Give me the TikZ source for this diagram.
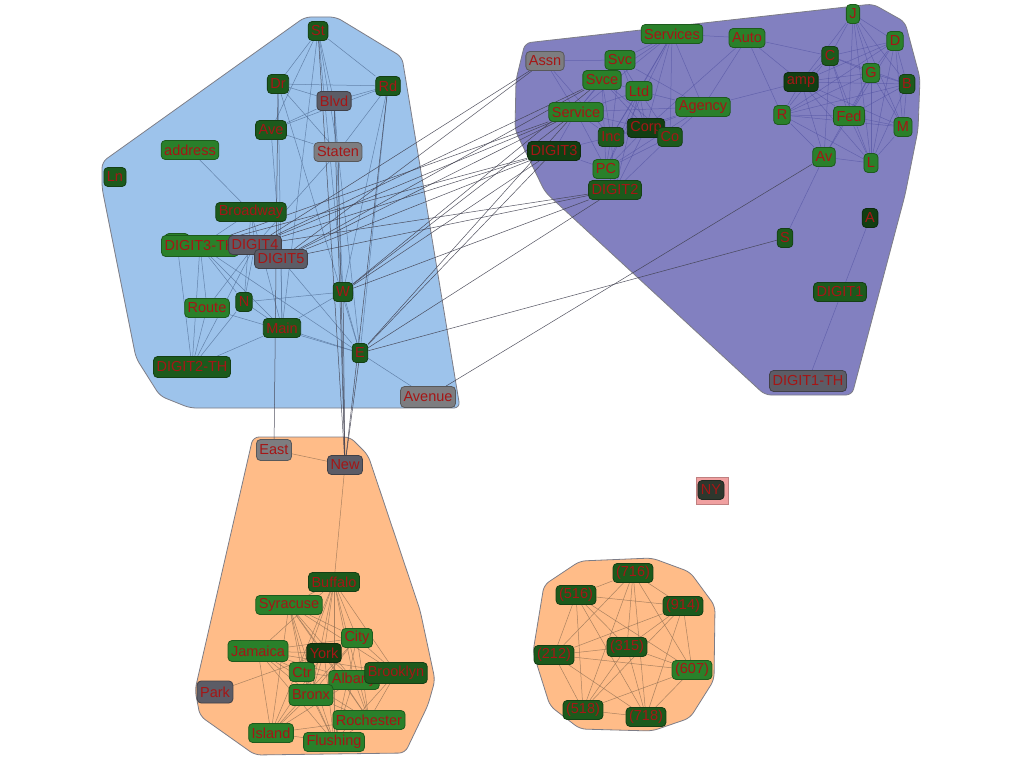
\documentclass[tikz,border=0pt]{standalone}
\usepackage{fontspec}
\setmainfont{Liberation Sans}
\definecolor{hullblue}{RGB}{157,195,235}
\definecolor{hullpurple}{RGB}{130,128,192}
\definecolor{hullpeach}{RGB}{255,188,136}
\definecolor{hullpink}{RGB}{240,160,160}
\definecolor{hullline}{RGB}{125,125,135}
\definecolor{cgreen}{RGB}{42,128,42}
\definecolor{cdark}{RGB}{28,90,28}
\definecolor{cdarker}{RGB}{18,62,18}
\definecolor{cgray}{RGB}{125,125,128}
\definecolor{cdgray}{RGB}{92,92,102}
\definecolor{cblack}{RGB}{45,55,45}
\definecolor{txtred}{RGB}{165,22,22}
\definecolor{eblue}{RGB}{85,115,155}
\definecolor{epurple}{RGB}{78,78,160}
\definecolor{ebrown}{RGB}{150,115,85}
\definecolor{einter}{RGB}{65,65,80}
\pgfdeclarelayer{hulllayer}
\pgfdeclarelayer{edgelayer}
\pgfsetlayers{hulllayer,edgelayer,main}
\tikzset{
  basenode/.style={rounded corners=4pt, inner xsep=3pt, inner ysep=0pt,
    minimum height=19pt, text=txtred, line width=0.8pt,
    font=\fontsize{14.5}{16}\selectfont},
  fgreen/.style={basenode, fill=cgreen, draw=cgreen!70!black},
  fdark/.style={basenode, fill=cdark, draw=cdark!70!black},
  fdarker/.style={basenode, fill=cdarker, draw=cdarker!70!black},
  fgray/.style={basenode, fill=cgray, draw=cgray!70!black},
  fdgray/.style={basenode, fill=cdgray, draw=cdgray!70!black},
  fblack/.style={basenode, fill=cblack, draw=cblack!70!black},
  hull/.style={draw=hullline, line width=0.8pt, rounded corners=6pt},
  eleft/.style={draw=eblue, line width=0.5pt, opacity=0.8},
  eright/.style={draw=epurple, line width=0.5pt, opacity=0.6},
  ebot/.style={draw=ebrown, line width=0.5pt, opacity=0.8},
  einterc/.style={draw=einter, line width=0.5pt, opacity=0.9}
}
\begin{document}
\begin{tikzpicture}[x=1pt,y=-1pt]
\useasboundingbox (0,0) rectangle (1024,768);
\begin{pgfonlayer}{hulllayer}
\fill[white] (0,0) rectangle (1024,768);
\filldraw[hull, fill=hullblue] (305,17) -- (336,17) -- (402,57) -- (460,408) -- (190,408) -- (160,396) -- (136,358) -- (102,188) -- (102,162) -- cycle;
\filldraw[hull, fill=hullpurple] (525,43) -- (873,4) -- (905,22) -- (920,78) -- (918,130) -- (905,195) -- (852,395) -- (765,395) -- (545,192) -- (515,130) -- (516,80) -- cycle;
\filldraw[hull, fill=hullpeach] (253,437) -- (350,437) -- (368,455) -- (420,610) -- (435,680) -- (428,705) -- (405,753) -- (255,755) -- (200,716) -- (195,690) -- cycle;
\filldraw[hull, fill=hullpeach] (580,561) -- (652,558) -- (690,572) -- (715,606) -- (714,680) -- (690,718) -- (652,731) -- (580,729) -- (550,706) -- (533,652) -- (544,585) -- cycle;
\filldraw[draw=hullpink!80!black, line width=0.6pt, fill=hullpink] (696,477) rectangle (728,504);
\end{pgfonlayer}

% nodes: left cluster
\node[fdark] (St) at (318,31) {St};
\node[fdark] (Dr) at (278,84) {Dr};
\node[fdark] (Rd) at (388,86) {Rd};
\node[fdgray] (Blvd) at (334,101) {Blvd};
\node[fdark] (Ave) at (271,130) {Ave};
\node[fgray] (Staten) at (338,152) {Staten};
\node[fgreen] (address) at (190,150) {address};
\node[fdark] (Ln) at (115,177) {Ln};
\node[fdark] (Broadway) at (251,212) {Broadway};
\node[fgreen, minimum width=24pt] (hid) at (177,243) {};
\node[fgreen, minimum height=21pt] (dthree) at (200,246) {DIGIT3-TH};
\node[fdgray] (dfour) at (255,245) {DIGIT4};
\node[fdgray] (dfive) at (281,259) {DIGIT5};
\node[fgreen] (Route) at (207,308) {Route};
\node[fdark] (N) at (244,302) {N};
\node[fdark] (W) at (343,292) {W};
\node[fdark] (Main) at (282,328) {Main};
\node[fdark] (E) at (360,353) {E};
\node[fdark, minimum height=21pt] (dtwo) at (192,367) {DIGIT2-TH};
\node[fgray, minimum height=21pt] (Avenue) at (428,397) {Avenue};

% nodes: right cluster
\node[fgray] (Assn) at (545,61) {Assn};
\node[fgreen] (Svc) at (620,60) {Svc};
\node[fgreen] (Services) at (672,34) {Services};
\node[fgreen] (Auto) at (747,38) {Auto};
\node[fgreen] (Svce) at (602,80) {Svce};
\node[fgreen] (Ltd) at (639,91) {Ltd};
\node[fgreen] (Service) at (576,112) {Service};
\node[fgreen] (Agency) at (703,107) {Agency};
\node[fdark] (Inc) at (611,137) {Inc};
\node[fdarker] (Corp) at (646,128) {Corp};
\node[fdark] (Co) at (670,137) {Co};
\node[fdarker] (DIGITthree) at (554,151) {DIGIT3};
\node[fgreen] (PC) at (606,169) {PC};
\node[fdark] (DIGITtwo) at (615,190) {DIGIT2};
\node[fgreen] (J) at (853,14) {J};
\node[fgreen] (D) at (895,41) {D};
\node[fdark] (C) at (830,56) {C};
\node[fgreen] (G) at (871,73) {G};
\node[fdark] (B) at (907,84) {B};
\node[fdarker] (amp) at (801,82) {amp};
\node[fgreen] (R) at (782,115) {R};
\node[fgreen] (Fed) at (849,116) {Fed};
\node[fgreen] (M) at (903,127) {M};
\node[fgreen] (Av) at (824,157) {Av};
\node[fgreen] (L) at (871,163) {L};
\node[fdark] (S) at (785,238) {S};
\node[fdarker] (A) at (870,218) {A};
\node[fdark] (DIGITone) at (840,292) {DIGIT1};
\node[fdgray, minimum height=21pt] (DIGITonetwo) at (808,381) {DIGIT1-TH};

% nodes: bottom left
\node[fgray, minimum height=21pt] (East) at (274,450) {East};
\node[fdgray] (New) at (345,465) {New};
\node[fdark] (Buffalo) at (334,582) {Buffalo};
\node[fgreen] (Syracuse) at (289,605) {Syracuse};
\node[fgreen] (City) at (357,638) {City};
\node[fgreen, minimum height=21pt] (Jamaica) at (258,651) {Jamaica};
\node[fgreen] (Ctr) at (302,672) {Ctr};
\node[fgreen] (Albany) at (354,680) {Albany};
\node[fdarker] (York) at (324,653) {York};
\node[fdark, minimum height=21pt] (Brooklyn) at (396,673) {Brooklyn};
\node[fdgray, minimum height=22pt] (Park) at (215,692) {Park};
\node[fgreen, minimum height=21pt] (Bronx) at (311,695) {Bronx};
\node[fgreen] (Rochester) at (369,720) {Rochester};
\node[fgreen] (Island) at (271,733) {Island};
\node[fgreen] (Flushing) at (334,742) {Flushing};

% nodes: bottom right
\node[fdark] (a716) at (633,573) {(716)};
\node[fdark] (a516) at (576,595) {(516)};
\node[fdark] (a914) at (683,606) {(914)};
\node[fdark] (a212) at (554,655) {(212)};
\node[fdark] (a315) at (627,647) {(315)};
\node[fgreen] (a607) at (692,670) {(607)};
\node[fdark] (a518) at (583,710) {(518)};
\node[fdark] (a718) at (646,717) {(718)};

% NY
\node[fblack, minimum width=24pt] (NY) at (711,490) {NY};

\begin{pgfonlayer}{edgelayer}
% left cluster internal
\foreach \a/\b in {St/Dr, St/Rd, St/Blvd, St/Ave, St/Staten, St/W, St/Main, Dr/Rd, Dr/Blvd, Dr/Staten, Dr/Main, Dr/E,
  Rd/Blvd, Rd/Ave, Rd/Staten, Rd/E, Rd/W, Ave/Blvd, Ave/Staten, Ave/dfive, Blvd/Staten, Blvd/W, Staten/E, Staten/dfour,
  address/Broadway, Broadway/dthree, Broadway/dfour, Broadway/Main, Broadway/N,
  dthree/Route, dthree/N, dthree/Main, dthree/dtwo, dthree/E, dfour/N, dfour/Route, dfour/dtwo, dfive/Main, dfive/E,
  Route/dtwo, Route/E, N/Main, N/W, N/dtwo, Main/dtwo, Main/W, Main/E, E/Avenue, W/E, hid/dtwo}
  \draw[eleft] (\a) -- (\b);
% right cluster internal
\foreach \a/\b in {Services/Svc, Services/Svce, Services/Ltd, Services/Service, Services/Agency, Services/Inc, Services/Corp,
  Services/Co, Services/Auto, Services/PC, Svc/Svce, Svc/Ltd, Svc/Service, Svc/Inc, Svc/Corp, Svc/Agency, Svce/Ltd,
  Svce/Service, Svce/Inc, Svce/Corp, Svce/Co, Svce/PC, Ltd/Service, Ltd/Agency, Ltd/Inc, Ltd/Corp, Ltd/Co, Ltd/PC,
  Ltd/DIGITtwo, Service/Inc, Service/Corp, Service/PC, Service/DIGITthree, Service/Agency, Agency/Inc, Agency/Corp,
  Agency/Co, Agency/PC, Inc/Corp, Inc/PC, Inc/DIGITtwo, Inc/DIGITthree, Corp/Co, Corp/PC, Corp/DIGITtwo, Co/PC,
  Co/DIGITtwo, PC/DIGITtwo, PC/DIGITthree, Assn/Svc, Assn/Service, Assn/Inc, Auto/amp, Auto/R, Auto/Agency, Auto/C,
  Auto/Corp, Agency/amp,
  J/D, J/C, J/G, J/B, J/Fed, J/L, J/M, J/amp, D/C, D/G, D/B, D/M, D/L, D/amp, D/R, D/Fed,
  C/G, C/B, C/amp, C/R, C/Fed, C/Av, C/L, G/B, G/amp, G/R, G/Fed, G/M, G/L, G/Av,
  B/amp, B/R, B/Fed, B/M, B/L, amp/R, amp/Fed, amp/Av, amp/L, amp/M,
  R/Fed, R/Av, R/L, R/M, Fed/M, Fed/L, Fed/Av, M/L, Av/L, Av/S, A/DIGITonetwo}
  \draw[eright] (\a) -- (\b);
% inter-cluster
\foreach \a/\b in {dfour/Assn, dfour/Svce, dfour/Service, dfour/DIGITthree, dfour/DIGITtwo,
  dfive/Assn, dfive/Svce, dfive/Service, dfive/DIGITthree, dfive/DIGITtwo,
  dthree/Service, dthree/DIGITthree, W/Svce, W/Service, W/DIGITthree, W/DIGITtwo,
  E/Service, E/DIGITthree, E/DIGITtwo, E/S, Avenue/Av,
  St/New, Blvd/New, Staten/New, Rd/New, W/New, E/New, Dr/East}
  \draw[einterc] (\a) -- (\b);
% bottom left
\foreach \a/\b in {East/New, New/Buffalo, Park/York,
  Buffalo/Syracuse, Buffalo/City, Buffalo/Jamaica, Buffalo/York, Buffalo/Ctr, Buffalo/Albany, Buffalo/Brooklyn,
  Buffalo/Bronx, Buffalo/Rochester, Buffalo/Island, Buffalo/Flushing, Syracuse/City, Syracuse/York, Syracuse/Ctr,
  Syracuse/Albany, Syracuse/Brooklyn, Syracuse/Bronx, Syracuse/Rochester, Syracuse/Island, Syracuse/Flushing,
  City/Jamaica, City/York, City/Brooklyn, City/Bronx, City/Rochester, City/Island, City/Flushing,
  Jamaica/York, Jamaica/Ctr, Jamaica/Albany, Jamaica/Brooklyn, Jamaica/Bronx, Jamaica/Rochester, Jamaica/Flushing,
  Jamaica/Island, York/Ctr, York/Albany, York/Bronx, York/Rochester, York/Island, York/Flushing, Ctr/Albany,
  Ctr/Bronx, Ctr/Flushing, Albany/Bronx, Albany/Rochester, Albany/Island, Albany/Flushing, Brooklyn/Bronx,
  Brooklyn/Rochester, Brooklyn/Flushing, Bronx/Rochester, Bronx/Island, Bronx/Flushing, Rochester/Island,
  Rochester/Flushing, Island/Flushing}
  \draw[ebot] (\a) -- (\b);
% bottom right: all pairs
\foreach \a/\b in {a716/a516, a716/a914, a716/a212, a716/a315, a716/a607, a716/a518, a716/a718,
  a516/a914, a516/a212, a516/a315, a516/a607, a516/a518, a516/a718,
  a914/a212, a914/a315, a914/a607, a914/a518, a914/a718,
  a212/a315, a212/a607, a212/a518, a212/a718,
  a315/a607, a315/a518, a315/a718, a607/a518, a607/a718, a518/a718}
  \draw[ebot] (\a) -- (\b);
\end{pgfonlayer}
\end{tikzpicture}
\end{document}
